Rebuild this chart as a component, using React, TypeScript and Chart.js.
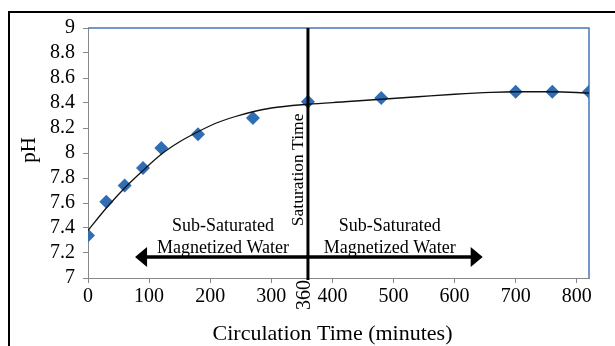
import React, { useEffect, useRef } from 'react';
import { Chart, registerables } from 'chart.js';
Chart.register(...registerables);

const timeMinutes = [0, 30, 60, 90, 120, 180, 270, 360, 480, 700, 760, 820];
const phValues = [7.34, 7.61, 7.74, 7.88, 8.04, 8.15, 8.28, 8.41, 8.44, 8.49, 8.49, 8.49];
const trendTime = [0, 30, 60, 90, 120, 150, 180, 210, 240, 270, 300, 360, 420, 480, 540, 600, 660, 700, 760, 820];
const trendPh = [7.38, 7.56, 7.72, 7.86, 7.99, 8.09, 8.17, 8.24, 8.29, 8.33, 8.36, 8.39, 8.41, 8.43, 8.45, 8.47, 8.485, 8.49, 8.49, 8.48];
const xTickValues = [0, 100, 200, 300, 400, 500, 600, 700, 800];
const yTickValues = [7, 7.2, 7.4, 7.6, 7.8, 8, 8.2, 8.4, 8.6, 8.8, 9];
const saturationTime = 360;
const arrowLeftEnd = 77;
const arrowRightEnd = 646;
const arrowPh = 7.168;
const xTitle = 'Circulation Time (minutes)';
const yTitle = 'pH';
const satLabel = 'Saturation Time';
const regionLabel = ['Sub-Saturated', 'Magnetized Water'];

const SERIF = "'Liberation Serif', 'Times New Roman', serif";

const annotPlugin = {
  id: 'annot',
  beforeDatasetsDraw(chart: any) {
    const { ctx, chartArea: a } = chart;
    ctx.save();
    ctx.strokeStyle = '#4A76B8';
    ctx.lineWidth = 1.5;
    ctx.beginPath();
    ctx.moveTo(a.left, a.top);
    ctx.lineTo(a.right, a.top);
    ctx.lineTo(a.right, a.bottom);
    ctx.stroke();
    ctx.restore();
  },
  afterDatasetsDraw(chart: any) {
    const { ctx, chartArea: a, scales } = chart;
    const x = scales.x;
    const y = scales.y;
    ctx.save();
    // saturation line
    const sx = x.getPixelForValue(saturationTime);
    ctx.strokeStyle = '#000';
    ctx.lineWidth = 3;
    ctx.beginPath();
    ctx.moveTo(sx, a.top);
    ctx.lineTo(sx, a.bottom + 2);
    ctx.stroke();

    // double arrow
    const ay = y.getPixelForValue(arrowPh);
    const lx = x.getPixelForValue(arrowLeftEnd);
    const rx = x.getPixelForValue(arrowRightEnd);
    const headL = 12;
    const headH = 10;
    ctx.lineWidth = 3.5;
    ctx.beginPath();
    ctx.moveTo(lx + headL - 1, ay);
    ctx.lineTo(rx - headL + 1, ay);
    ctx.stroke();
    ctx.fillStyle = '#000';
    ctx.beginPath();
    ctx.moveTo(lx, ay);
    ctx.lineTo(lx + headL, ay - headH);
    ctx.lineTo(lx + headL, ay + headH);
    ctx.closePath();
    ctx.fill();
    ctx.beginPath();
    ctx.moveTo(rx, ay);
    ctx.lineTo(rx - headL, ay - headH);
    ctx.lineTo(rx - headL, ay + headH);
    ctx.closePath();
    ctx.fill();

    // region labels
    ctx.font = `18px ${SERIF}`;
    ctx.textAlign = 'center';
    ctx.textBaseline = 'middle';
    const l1 = y.getPixelForValue(7.41);
    const l2 = y.getPixelForValue(7.24);
    [221, 494].forEach((cx) => {
      const px = x.getPixelForValue(cx);
      ctx.fillText(regionLabel[0], px, l1);
      ctx.fillText(regionLabel[1], px, l2);
    });

    // saturation time rotated
    ctx.save();
    ctx.font = `17.5px ${SERIF}`;
    ctx.translate(sx - 10, y.getPixelForValue(7.865));
    ctx.rotate(-Math.PI / 2);
    ctx.fillText(satLabel, 0, 0);
    ctx.restore();

    // 360 label
    ctx.save();
    ctx.font = `20px ${SERIF}`;
    ctx.translate(sx - 3, a.bottom + 17);
    ctx.rotate(-Math.PI / 2);
    ctx.fillText(String(saturationTime), 0, 0);
    ctx.restore();

    // axis titles
    ctx.font = `22px ${SERIF}`;
    ctx.fillText(xTitle, (a.left + a.right) / 2 - 6, 334);
    ctx.save();
    ctx.font = `21px ${SERIF}`;
    ctx.translate(29, (a.top + a.bottom) / 2 - 3);
    ctx.rotate(-Math.PI / 2);
    ctx.fillText(yTitle, 0, 0);
    ctx.restore();

    // outer frame
    ctx.strokeStyle = '#000';
    ctx.lineWidth = 2;
    ctx.strokeRect(9, 12, 700, 400);
    ctx.restore();
  },
};

export default function App() {
  const ref = useRef<HTMLCanvasElement>(null);
  useEffect(() => {
    if (!ref.current) return;
    Chart.defaults.font.family = SERIF;
    const chart = new Chart(ref.current, {
      type: 'scatter',
      data: {
        datasets: [
          {
            type: 'line',
            label: 'trend',
            data: trendTime.map((t, i) => ({ x: t, y: trendPh[i] })),
            borderColor: '#111',
            borderWidth: 1.3,
            pointRadius: 0,
            cubicInterpolationMode: 'monotone',
            fill: false,
            order: 1,
          } as any,
          {
            label: 'pH',
            data: timeMinutes.map((t, i) => ({ x: t, y: phValues[i] })),
            pointStyle: 'rectRot',
            pointRadius: 7,
            backgroundColor: '#2F6DB5',
            borderColor: '#2F6DB5',
            borderWidth: 0,
            order: 2,
          },
        ],
      },
      options: {
        animation: false,
        responsive: false,
        layout: { padding: { left: 0, right: 26, top: 28, bottom: 0 } },
        plugins: { legend: { display: false }, tooltip: { enabled: false } },
        scales: {
          x: {
            type: 'linear',
            min: 0,
            max: 820,
            afterBuildTicks: (s: any) => {
              s.ticks = xTickValues.map((v) => ({ value: v }));
            },
            afterFit: (s: any) => {
              s.height = 68;
            },
            ticks: { color: '#000', font: { size: 20, family: SERIF }, padding: 2, maxRotation: 0, autoSkip: false },
            grid: { display: true, drawOnChartArea: false, drawTicks: true, tickLength: 5, color: '#888' },
            border: { color: '#888', width: 1 },
          },
          y: {
            type: 'linear',
            min: 7,
            max: 9,
            afterBuildTicks: (s: any) => {
              s.ticks = yTickValues.map((v) => ({ value: v }));
            },
            afterFit: (s: any) => {
              s.width = 88;
            },
            ticks: {
              color: '#000',
              font: { size: 20, family: SERIF },
              padding: 8,
              autoSkip: false,
              callback: (v: any) => String(Math.round(Number(v) * 10) / 10),
            },
            grid: { display: true, drawOnChartArea: false, drawTicks: true, tickLength: 5, color: '#888' },
            border: { color: '#888', width: 1 },
          },
        },
      },
      plugins: [annotPlugin],
    });
    return () => chart.destroy();
  }, []);
  return (
    <div style={{ position: 'fixed', left: 0, top: 0, width: 615, height: 346, background: '#fff' }}>
      <canvas ref={ref} width={615} height={346} style={{ display: 'block' }} />
    </div>
  );
}
